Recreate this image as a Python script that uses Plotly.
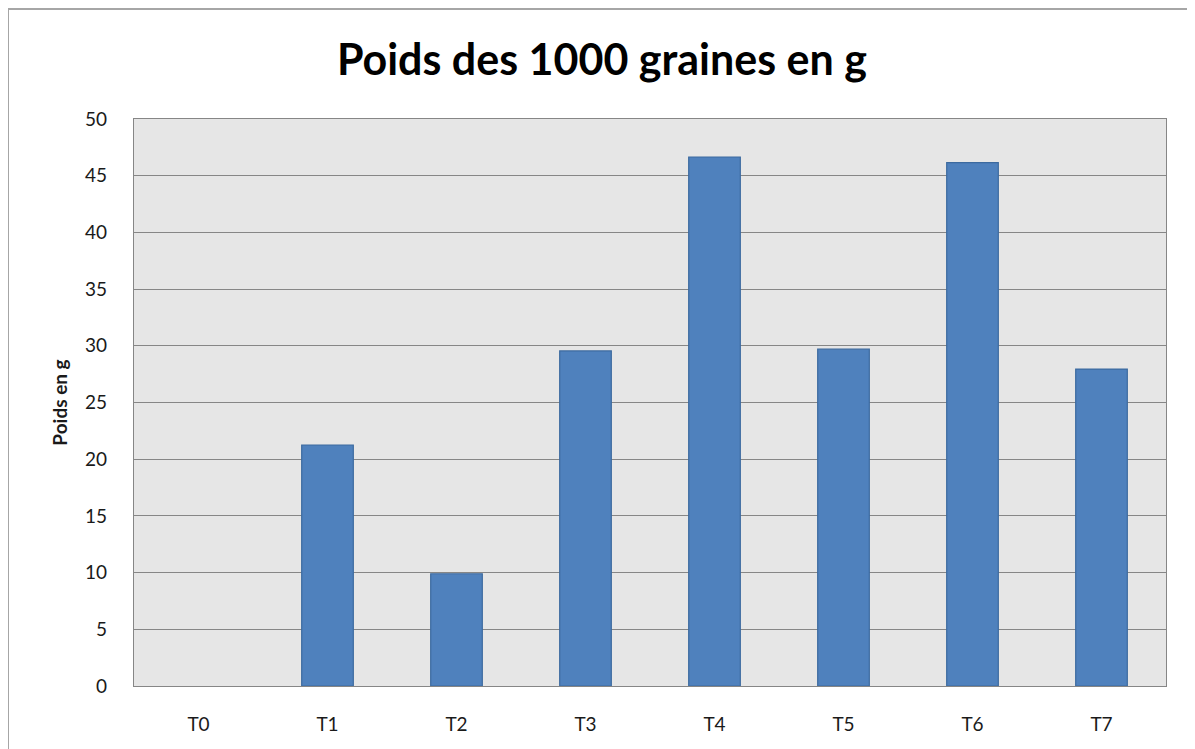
import plotly.graph_objects as go

# ===== Données ===== #
categories = ["T0", "T1", "T2", "T3", "T4", "T5", "T6", "T7"]
poids = [0, 21.25, 9.9, 29.55, 46.65, 29.7, 46.15, 27.95]
y_ticks = [0, 5, 10, 15, 20, 25, 30, 35, 40, 45, 50]

# pas de contour pour les barres nulles (T0)
bar_trace = go.Bar(
    x=categories, y=poids,
    width=0.4,
    marker=dict(color='#4F81BD',
                line=dict(color='#3C6A9F', width=[0 if v == 0 else 1.2 for v in poids]))
)

fig = go.Figure(data=[bar_trace])
# la page ajoute 8px de marge au body : on compense dans les marges
fig.update_layout(
    width=1195, height=749,
    margin=dict(l=126, r=37, t=111, b=71),
    paper_bgcolor='white',
    plot_bgcolor='#E6E6E6',
    showlegend=False,
    title=dict(
        text='<b>Poids des 1000 graines en g</b>',
        x=0.497, xanchor='center', xref='container',
        y=0.93, yanchor='middle', yref='container',
        font=dict(family='Lato', size=43, color='black')
    ),
    font=dict(family='Lato', size=19, color='#1a1a1a'),
)
fig.update_xaxes(
    showgrid=False, zeroline=False,
    showline=True, linecolor='#868686', linewidth=1.3, mirror=True,
    ticks='outside', ticklen=21, tickcolor='rgba(0,0,0,0)',
    tickfont=dict(size=19)
)
fig.update_yaxes(
    range=[0, 50], tickvals=y_ticks,
    showgrid=True, gridcolor='#868686', gridwidth=1.4,
    zeroline=False,
    showline=True, linecolor='#868686', linewidth=1.3, mirror=True,
    ticks='outside', ticklen=22, tickcolor='rgba(0,0,0,0)',
    tickfont=dict(size=19),
    title=dict(text='<b>Poids en g</b>', font=dict(size=19), standoff=12)
)

# cadre extérieur du graphique
fig.add_shape(
    type='rect', xref='paper', yref='paper',
    x0=(8 - 134) / 1032, x1=(1193 - 134) / 1032,
    y0=-0.2, y1=(686 - 9) / 567,
    line=dict(color='#A6A6A6', width=2), fillcolor='rgba(0,0,0,0)',
    layer='below'
)

fig.write_html("out.html")
